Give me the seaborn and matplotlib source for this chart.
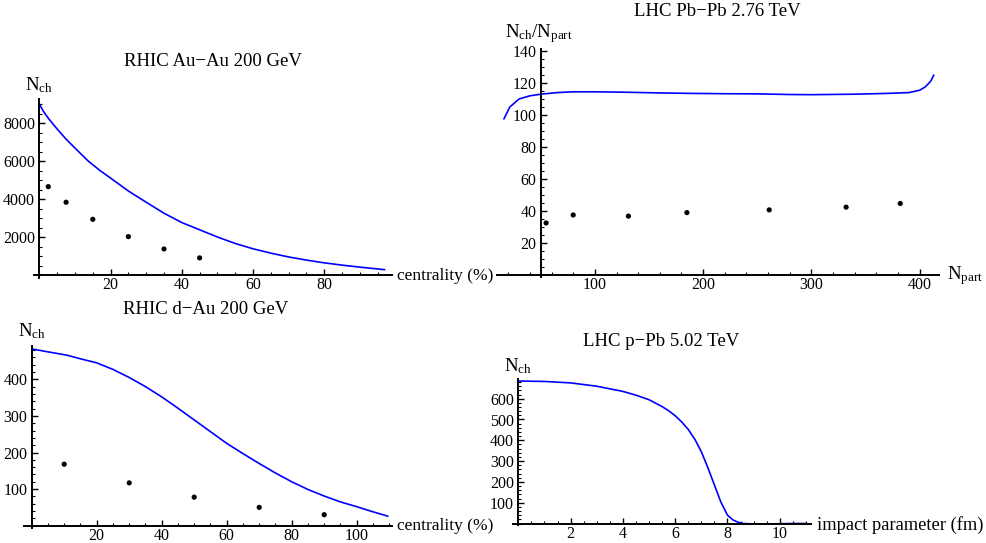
import numpy as np
import pandas as pd
import matplotlib
matplotlib.use("Agg")
import matplotlib.pyplot as plt
from matplotlib.ticker import MultipleLocator, FixedLocator
import seaborn as sns

# ---------------- data ----------------
# Panel 1: RHIC Au-Au 200 GeV
auau_curve_c = [0, 1, 2.5, 5, 7.5, 10, 13.7, 17, 20, 25, 30, 35, 40, 45, 50, 55, 60, 65, 70, 75, 80, 85, 90, 97]
auau_curve_n = [9000, 8650, 8250, 7680, 7150, 6680, 6000, 5500, 5100, 4420, 3830, 3250, 2760, 2380, 2000,
                1660, 1380, 1150, 950, 785, 640, 520, 415, 280]
auau_data_c = [2.5, 7.5, 15, 25, 35, 45]
auau_data_n = [4650, 3830, 2930, 2020, 1370, 900]

# Panel 2: LHC Pb-Pb 2.76 TeV
pbpb_curve_np = [16, 21.5, 30, 40, 50, 65, 80, 100, 130, 160, 190, 220, 250, 280, 300, 340, 370, 390, 400, 405, 410, 413]
pbpb_curve_r = [97.5, 105, 110, 112, 113, 114, 114.5, 114.5, 114.2, 113.8, 113.5, 113.3, 113.2, 112.8, 112.7,
                113, 113.5, 114, 115.5, 117.5, 121, 125]
pbpb_data_np = [55, 80, 131, 185, 261, 332, 382]
pbpb_data_r = [32.5, 37.5, 36.8, 39.0, 40.7, 42.4, 44.7]

# Panel 3: RHIC d-Au 200 GeV
dau_curve_c = [0, 5, 10.8, 15, 20, 25, 30, 35, 40, 45, 50, 55, 60, 65, 70, 75, 80, 85, 90, 95, 100, 105, 109.6]
dau_curve_n = [483, 475, 466, 456, 445, 427, 405, 380, 352, 321, 289, 257, 225, 197, 170, 144, 120, 99, 81, 65,
               52, 38, 26]
dau_data_c = [10, 30, 50, 70, 90]
dau_data_n = [168, 117, 78, 50, 30]

# Panel 4: LHC p-Pb 5.02 TeV
ppb_curve_b = [0, 1, 2, 3, 4, 4.5, 5, 5.5, 5.75, 6, 6.25, 6.5, 6.75, 7, 7.25, 7.5, 7.75, 8, 8.2, 8.4, 8.6, 9,
               9.5, 10, 10.5, 11]
ppb_curve_n = [685, 683, 676, 660, 635, 617, 595, 562, 542, 518, 488, 452, 405, 345, 268, 185, 102, 40, 18, 6,
               0, -2, -2, -1, 0, 0]

titles = ["RHIC Au\u2212Au 200 GeV", "LHC Pb\u2212Pb 2.76 TeV", "RHIC d\u2212Au 200 GeV", "LHC p\u2212Pb 5.02 TeV"]

# ---------------- style ----------------
sns.set_style("white")
plt.rcParams["font.family"] = ["Liberation Serif", "DejaVu Serif"]
plt.rcParams["mathtext.fontset"] = "custom"
plt.rcParams["mathtext.rm"] = "Liberation Serif"
plt.rcParams["mathtext.it"] = "Liberation Serif:italic"

W, H = 987, 543
fig = plt.figure(figsize=(W / 100, H / 100), dpi=100)
fig.patch.set_facecolor("white")

BLUE = "#0000ff"


def place(px0, py0, sx, sy, xo, yo, xlim, ylim):
    left = px0 + (xlim[0] - xo) * sx
    right = px0 + (xlim[1] - xo) * sx
    top = py0 - (ylim[1] - yo) * sy
    bottom = py0 - (ylim[0] - yo) * sy
    ax = fig.add_axes([left / W, 1 - bottom / H, (right - left) / W, (bottom - top) / H])
    ax.set_xlim(*xlim)
    ax.set_ylim(*ylim)
    return ax


def style(ax, xspine, yspine, xmaj, xmin, ymaj, ymin):
    ax.set_facecolor("none")
    for s in ["top", "right"]:
        ax.spines[s].set_visible(False)
    ax.spines["left"].set_position(("data", xspine))
    ax.spines["bottom"].set_position(("data", yspine))
    for s in ["left", "bottom"]:
        ax.spines[s].set_linewidth(1.4)
        ax.spines[s].set_color("black")
    ax.xaxis.set_major_locator(FixedLocator(xmaj))
    ax.yaxis.set_major_locator(FixedLocator(ymaj))
    ax.xaxis.set_minor_locator(MultipleLocator(xmin))
    ax.yaxis.set_minor_locator(MultipleLocator(ymin))
    ax.tick_params(which="both", bottom=True, left=True, top=False, right=False,
                   direction="in", color="black")
    ax.tick_params(which="major", length=4, width=1.0, labelsize=11.5, pad=3, labelcolor="black")
    ax.tick_params(which="minor", length=2.2, width=0.8)
    ax.tick_params(axis="x", which="major", pad=1.5)
    ax.grid(False)
    ax.set_xlabel("")
    ax.set_ylabel("")
    if ax.get_legend():
        ax.get_legend().remove()


def ftext(x, y, s, size, ha="left", va="center"):
    fig.text(x / W, 1 - y / H, s, fontsize=size, ha=ha, va=va, color="black")


# ---- Panel 1 ----
ax1 = place(39.4, 275, 3.56, 0.019, 0, 0, (-1.6, 99), (-150, 9250))
sns.lineplot(x=auau_curve_c, y=auau_curve_n, ax=ax1, color=BLUE, linewidth=1.2)
sns.scatterplot(x=auau_data_c, y=auau_data_n, ax=ax1, color="black", s=14, edgecolor="none")
style(ax1, 0, 0, [20, 40, 60, 80], 5, [2000, 4000, 6000, 8000], 500)

# ---- Panel 2 ----
ax2 = place(540.7, 275, 1.083, 1.6, 50, 0, (9.4, 418), (-1.2, 141))
sns.lineplot(x=pbpb_curve_np, y=pbpb_curve_r, ax=ax2, color=BLUE, linewidth=1.2, sort=False)
sns.scatterplot(x=pbpb_data_np, y=pbpb_data_r, ax=ax2, color="black", s=14, edgecolor="none")
style(ax2, 50, 0, [100, 200, 300, 400], 20, [20, 40, 60, 80, 100, 120, 140], 5)

# ---- Panel 3 ----
ax3 = place(31.7, 525.7, 3.25, 0.366, 0, 0, (-2.4, 110.8), (-6, 490))
sns.lineplot(x=dau_curve_c, y=dau_curve_n, ax=ax3, color=BLUE, linewidth=1.2)
sns.scatterplot(x=dau_data_c, y=dau_data_n, ax=ax3, color="black", s=14, edgecolor="none")
style(ax3, 0, 0, [20, 40, 60, 80, 100], 5, [100, 200, 300, 400], 20)

# ---- Panel 4 ----
ax4 = place(518.3, 523.5, 26.15, 0.208, 0, 0, (-0.22, 11.2), (-7, 693))
sns.lineplot(x=ppb_curve_b, y=ppb_curve_n, ax=ax4, color=BLUE, linewidth=1.2)
style(ax4, 0, 0, [2, 4, 6, 8, 10], 0.5, [100, 200, 300, 400, 500, 600], 20)

# ---- titles and axis labels ----
ftext(213, 61, titles[0], 13.5, ha="center")
ftext(717, 12, titles[1], 13.5, ha="center")
ftext(206, 310, titles[2], 13.5, ha="center")
ftext(661, 341, titles[3], 13.5, ha="center")

ftext(25, 85, r"$\mathrm{N_{ch}}$", 13.5)
ftext(505, 34, r"$\mathrm{N_{ch}/N_{part}}$", 13.5)
ftext(18, 331, r"$\mathrm{N_{ch}}$", 13.5)
ftext(504, 366, r"$\mathrm{N_{ch}}$", 13.5)

ftext(397, 276, "centrality (%)", 12.5)
ftext(947, 276, r"$\mathrm{N_{part}}$", 13.5)
ftext(397, 526, "centrality (%)", 12.5)
ftext(817, 525, "impact parameter (fm)", 13.3)

fig.savefig("out.png", dpi=100, facecolor="white")
